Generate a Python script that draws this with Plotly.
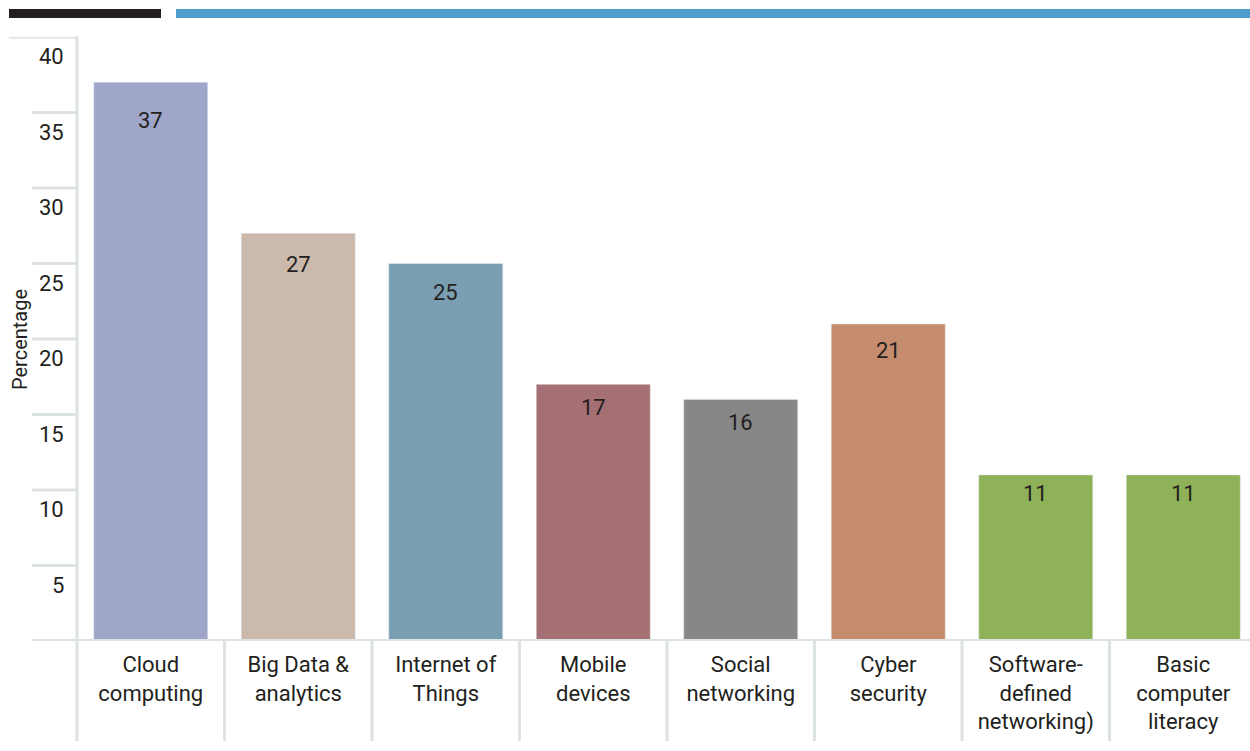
import plotly.graph_objects as go

# Survey results: share of respondents per technology area (%)
categories = ["Cloud computing", "Big Data & analytics", "Internet of Things",
              "Mobile devices", "Social networking", "Cyber security",
              "Software-defined networking)", "Basic computer literacy"]
tick_labels = ["Cloud<br>computing", "Big Data &<br>analytics", "Internet of<br>Things",
               "Mobile<br>devices", "Social<br>networking", "Cyber<br>security",
               "Software-<br>defined<br>networking)", "Basic<br>computer<br>literacy"]
values = [37, 27, 25, 17, 16, 21, 11, 11]
bar_colors = ["#a0a6c9", "#cbb9ab", "#7b9fb2", "#a57073",
              "#878787", "#c58d6d", "#8fb158", "#8fb158"]
y_ticks = [5, 10, 15, 20, 25, 30, 35, 40]

W, H = 1250, 751
ML, MR, MT, MB = 77, 0, 37, 110
PW, PH = W - ML - MR, H - MT - MB
GRID = "#dde3e0"
TEXT = "#231f20"
FONT = "Roboto"


def px_x(px):
    return (px - ML) / PW


def px_y(py):
    return (H - MB - py) / PH


xs = list(range(len(categories)))
cat_px = 147.5
x_max = -0.5 + PW / cat_px
px_per_unit = PH / 40

fig = go.Figure(go.Bar(
    x=xs, y=values, marker_color=bar_colors, width=0.773,
    hovertext=categories, showlegend=False,
))

shapes = []
annotations = []

# header rules
shapes.append(dict(type="rect", xref="paper", yref="paper", x0=px_x(9), x1=px_x(161),
                   y0=px_y(18), y1=px_y(9), fillcolor="#231f20", line_width=0, layer="above"))
shapes.append(dict(type="rect", xref="paper", yref="paper", x0=px_x(176), x1=1.0,
                   y0=px_y(18), y1=px_y(9), fillcolor="#4e9cc8", line_width=0, layer="above"))

# left tick rules and their labels (placed just under each rule)
for v in y_ticks:
    x_start = px_x(9) if v == 40 else px_x(32)
    shapes.append(dict(type="line", xref="paper", yref="y", x0=x_start, x1=0,
                       y0=v, y1=v, line=dict(color=GRID, width=3)))
    annotations.append(dict(xref="paper", yref="y", x=px_x(66), y=v, yshift=-5,
                            text=str(v), showarrow=False, xanchor="right", yanchor="top",
                            font=dict(family=FONT, size=22, color=TEXT)))

# baseline
shapes.append(dict(type="line", xref="paper", yref="y", x0=px_x(32), x1=1.0,
                   y0=0, y1=0, line=dict(color=GRID, width=4), layer="above"))
# vertical axis rule
shapes.append(dict(type="line", xref="paper", yref="paper", x0=0, x1=0,
                   y0=px_y(741), y1=px_y(36), line=dict(color=GRID, width=3)))
# category separators below the baseline
for i in range(1, len(categories)):
    shapes.append(dict(type="line", xref="x", yref="paper", x0=i - 0.5, x1=i - 0.5,
                       y0=px_y(741), y1=0, line=dict(color=GRID, width=3)))

# value labels inside bar tops
for x, v in zip(xs, values):
    annotations.append(dict(x=x, y=v, yshift=-(0.05 * v + 0.7) * px_per_unit,
                            text=str(v), showarrow=False,
                            xanchor="center", yanchor="middle",
                            font=dict(family=FONT, size=22, color=TEXT)))

# axis title
annotations.append(dict(xref="paper", yref="paper", x=px_x(20), y=px_y(340),
                        text="Percentage", textangle=-90, showarrow=False,
                        xanchor="center", yanchor="middle",
                        font=dict(family=FONT, size=20, color=TEXT)))

fig.update_layout(
    width=W, height=H,
    margin=dict(l=ML, r=MR, t=MT, b=MB),
    plot_bgcolor="white", paper_bgcolor="white",
    shapes=shapes, annotations=annotations,
    xaxis=dict(range=[-0.5, x_max], tickvals=xs, ticktext=tick_labels,
               showgrid=False, zeroline=False, showline=False, ticks="",
               ticklabelstandoff=8,
               tickfont=dict(family=FONT, size=22, color=TEXT), fixedrange=True),
    yaxis=dict(range=[0, 40], showgrid=False, zeroline=False, showline=False,
               showticklabels=False, ticks="", fixedrange=True),
)

fig.write_html("out.html")
